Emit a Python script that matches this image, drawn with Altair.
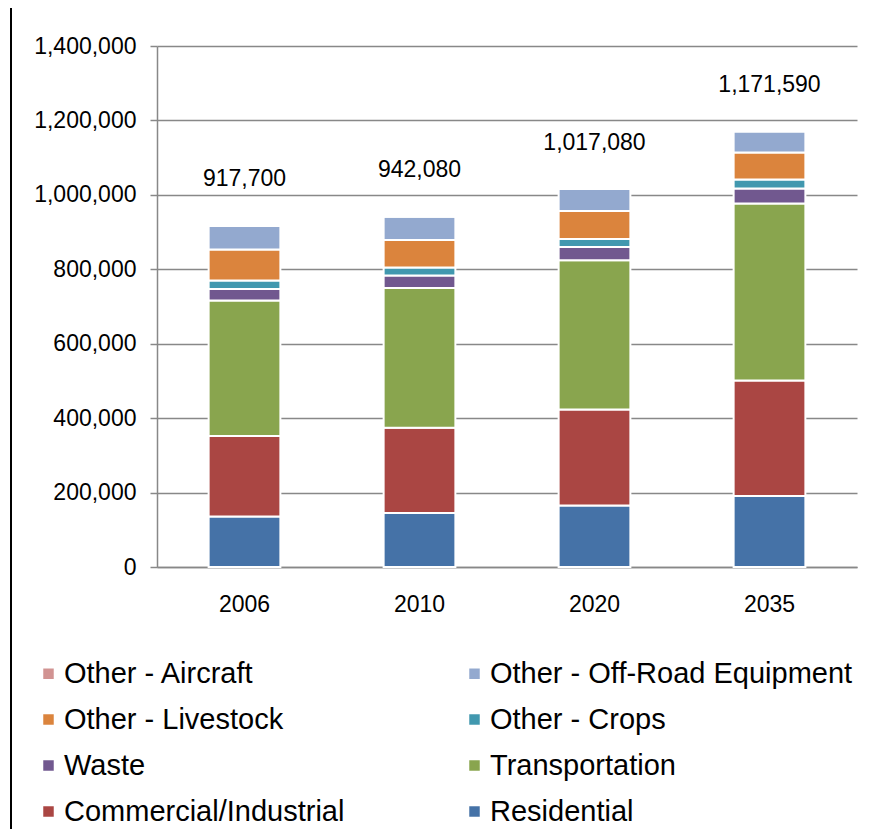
import altair as alt
import pandas as pd

years = ["2006", "2010", "2020", "2035"]
totals = [917700, 942080, 1017080, 1171590]
residential = [136000, 145000, 165000, 191000]
commercial = [216000, 229000, 258000, 310000]
transportation = [364000, 376000, 401000, 476000]
waste = [31000, 33000, 36000, 40000]
crops = [23000, 21500, 21500, 24000]
livestock = [83000, 74000, 75000, 73000]
offroad = [63500, 62380, 59280, 56090]
aircraft = [1200, 1200, 1300, 1500]
y_ticks = [0, 200000, 400000, 600000, 800000, 1000000, 1200000, 1400000]

series_names = ["Residential", "Commercial/Industrial", "Transportation", "Waste",
                "Other - Crops", "Other - Livestock", "Other - Off-Road Equipment",
                "Other - Aircraft"]
series_values = [residential, commercial, transportation, waste, crops, livestock,
                 offroad, aircraft]
series_colors = ["#4572A7", "#AA4643", "#89A54E", "#71588F", "#4198AF", "#DB843D",
                 "#93A9CF", "#D19392"]

rows = []
for i, (name, vals) in enumerate(zip(series_names, series_values)):
    for y, v in zip(years, vals):
        rows.append({"year": y, "series": name, "value": v, "idx": i})
df = pd.DataFrame(rows)
tot_df = pd.DataFrame({"year": years, "total": totals})

legend_order = list(reversed(series_names))
legend_colors = list(reversed(series_colors))

FONT = "Liberation Sans"
GRAY = "#888888"

x_scale = alt.Scale(paddingInner=0.59, paddingOuter=0.295)
y_scale = alt.Scale(domain=[0, 1400000], nice=False)
x_axis = alt.Axis(labelAngle=0, ticks=False, labelPadding=26, grid=False)
y_axis = alt.Axis(values=y_ticks, labelExpr="format(datum.value, ',')",
                  tickSize=7, labelPadding=14, grid=True)

bars = alt.Chart(df).mark_bar(stroke="white", strokeWidth=2).encode(
    x=alt.X("year:N", title=None, scale=x_scale, axis=x_axis),
    y=alt.Y("value:Q", stack="zero", scale=y_scale, title=None, axis=y_axis),
    color=alt.Color("series:N",
                    scale=alt.Scale(domain=legend_order, range=legend_colors),
                    legend=alt.Legend(title=None, orient="none", columns=2,
                                      direction="horizontal",
                                      legendX=-123, legendY=613,
                                      symbolType="square", symbolSize=110,
                                      symbolStrokeWidth=0,
                                      labelFontSize=29, labelFont=FONT,
                                      labelColor="black", labelOffset=1,
                                      columnPadding=115, rowPadding=16,
                                      padding=0, labelLimit=500)),
    order=alt.Order("idx:Q", sort="ascending"),
)

labels = alt.Chart(tot_df).mark_text(fontSize=23, font=FONT, color="black",
                                     dy=-46, baseline="middle").encode(
    x=alt.X("year:N", title=None, scale=x_scale, axis=x_axis),
    y=alt.Y("total:Q", title=None, scale=y_scale, axis=y_axis),
    text=alt.Text("total:Q", format=","),
)

border = alt.Chart(pd.DataFrame({"k": [0]})).mark_rule(color="black", strokeWidth=2).encode(
    x=alt.value(-146), y=alt.value(-38), y2=alt.value(790)
)

chart = alt.layer(bars, labels, border).properties(
    width=700, height=521,
    autosize=alt.AutoSizeParams(type="none"),
    padding={"left": 149, "top": 38, "right": 8, "bottom": 262},
    background="white",
).configure(font=FONT).configure_view(stroke=None).configure_axis(
    labelFontSize=23, labelColor="black", labelFont=FONT,
    tickColor=GRAY, tickWidth=1.5, domainColor=GRAY, domainWidth=1.5,
    gridColor=GRAY, gridWidth=1.5,
)

chart.save("out.html", embed_options={"renderer": "svg", "actions": False})
